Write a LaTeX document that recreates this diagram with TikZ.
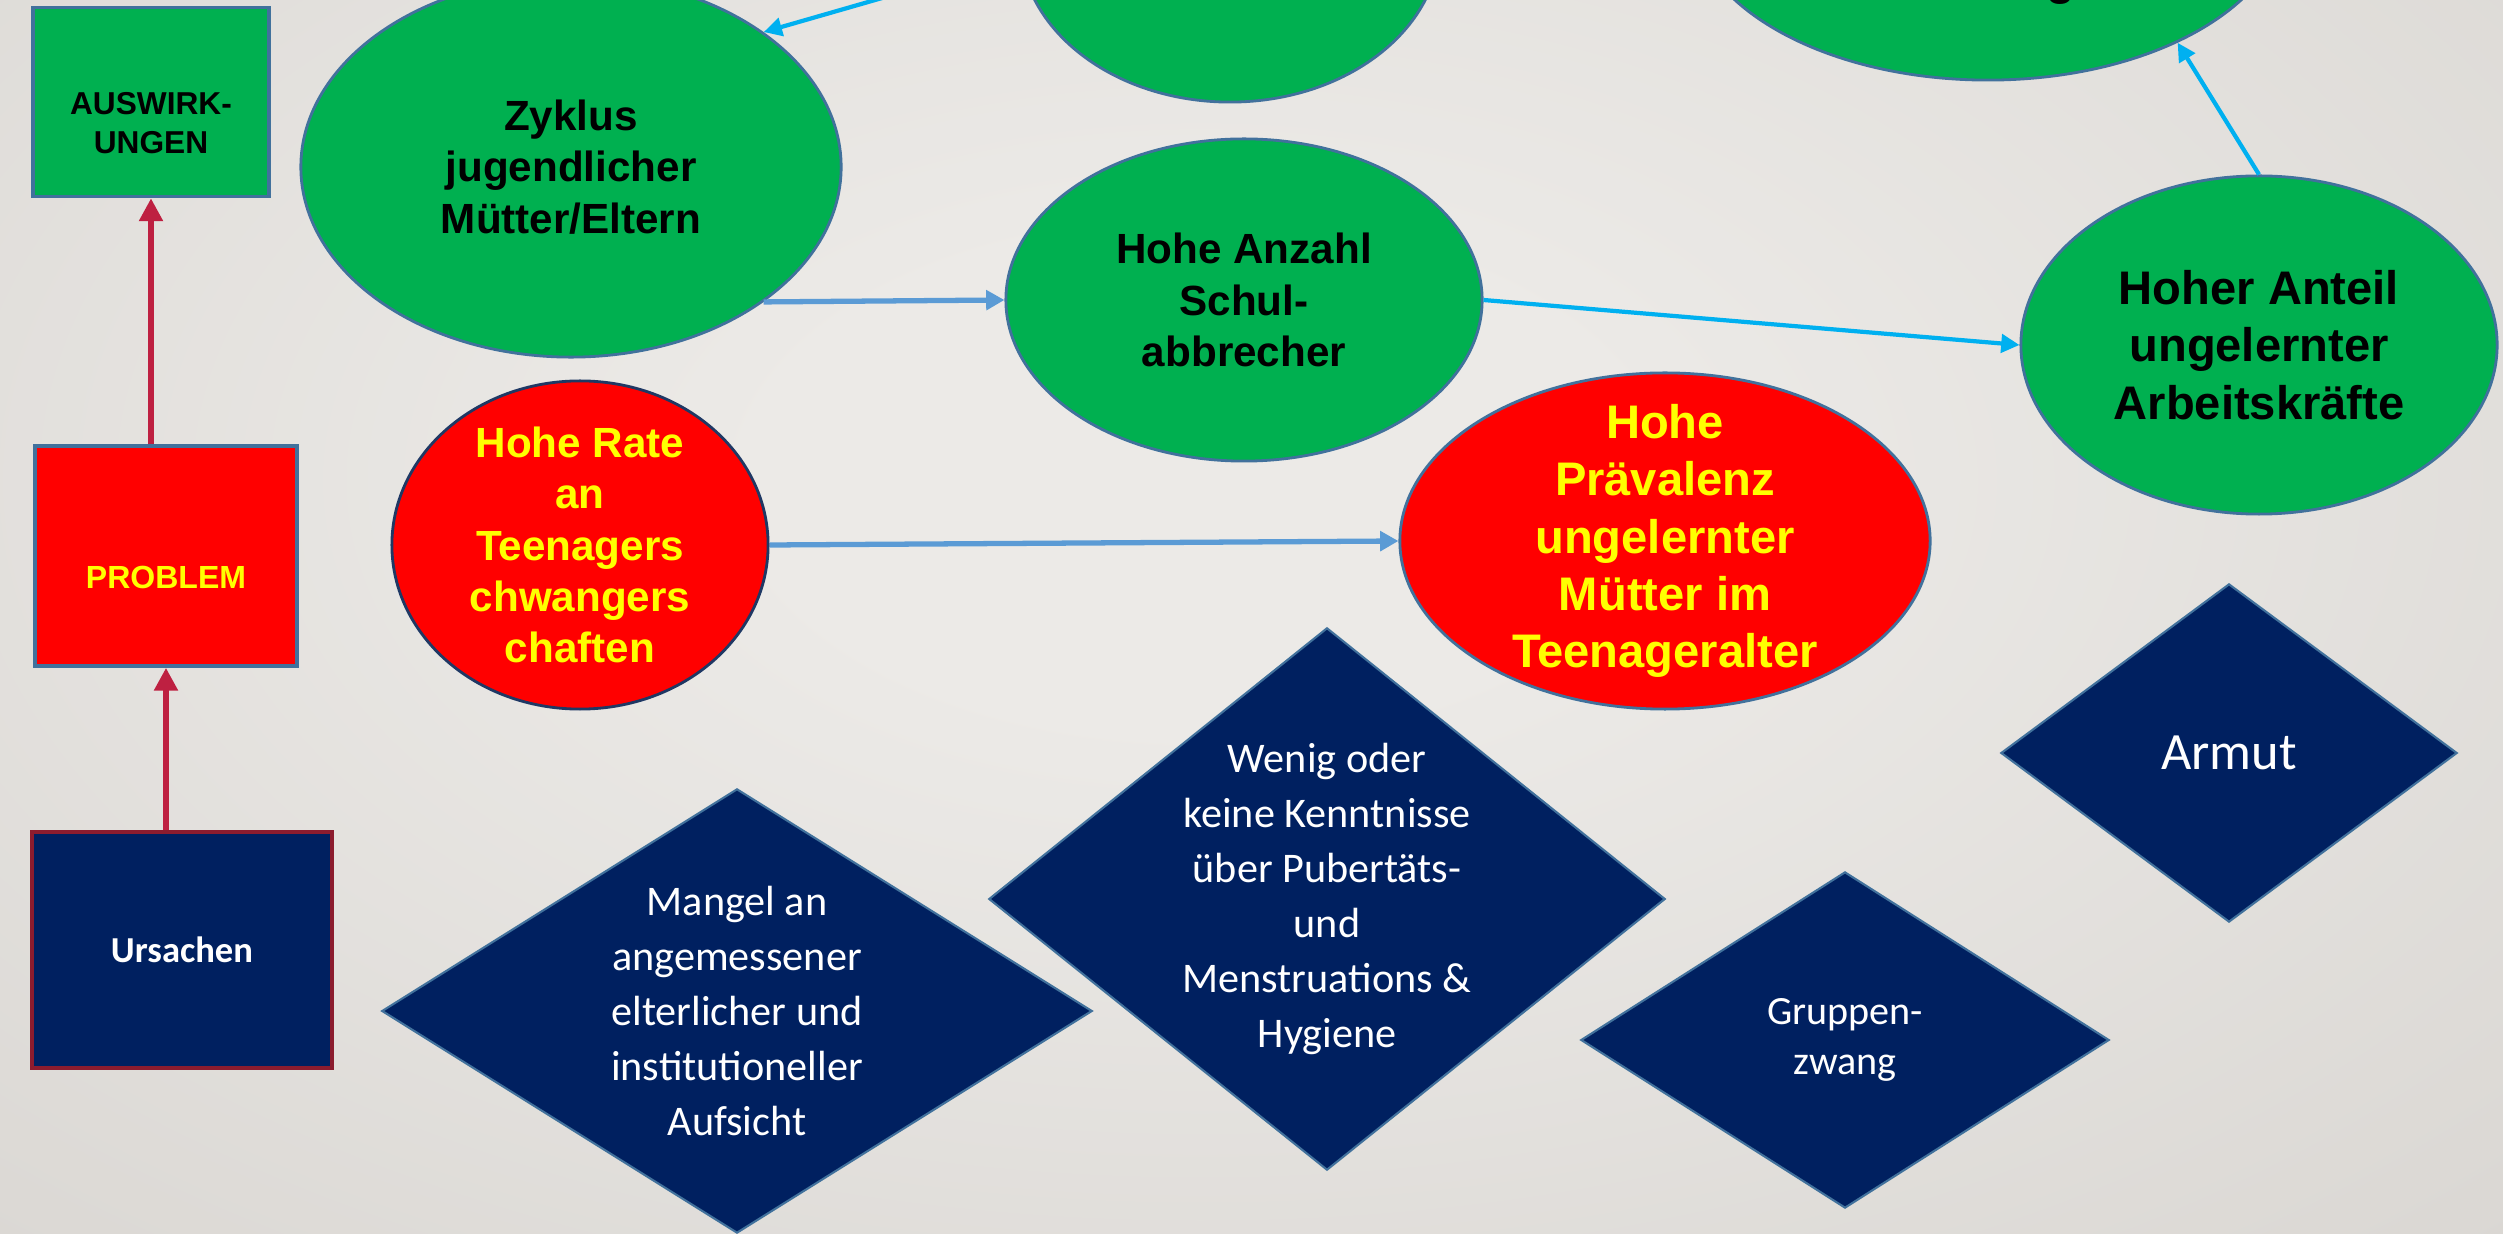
\documentclass[tikz,border=0pt]{standalone}
\usepackage{fontspec}
\setmainfont{Liberation Sans}
\newfontfamily\calib{Carlito}
\usetikzlibrary{shapes.geometric,arrows.meta}
\definecolor{grn}{HTML}{00B050}
\definecolor{rd}{HTML}{FF0000}
\definecolor{yel}{HTML}{FFFF00}
\definecolor{navy}{HTML}{002060}
\definecolor{bord}{HTML}{41719C}
\definecolor{navyb}{HTML}{1F3864}
\definecolor{crim}{HTML}{BE2041}
\definecolor{crimb}{HTML}{8C1C2E}
\definecolor{sky}{HTML}{00B0F0}
\definecolor{steel}{HTML}{5B9BD5}
\definecolor{bglight}{HTML}{ECEAE7}
\definecolor{bgmid}{HTML}{DAD7D3}
\definecolor{bgdark}{HTML}{C8C4BF}
\pgfdeclareradialshading{bgshade}{\pgfpoint{0bp}{0bp}}{color(0bp)=(bglight); color(8bp)=(bglight); color(35bp)=(bgmid); color(50bp)=(bgdark); color(75bp)=(bgdark)}
\tikzset{
  gell/.style={ellipse, fill=grn, draw=bord, line width=0.8pt, inner sep=-0.5cm, align=center, text=black,
    font=\bfseries\fontsize{12}{14.6}\selectfont},
  gbig/.style={font=\bfseries\fontsize{13.4}{16.3}\selectfont},
  rell/.style={ellipse, fill=rd, draw=bord, line width=0.8pt, inner sep=-0.5cm, align=center, text=yel,
    font=\bfseries\fontsize{12}{14.6}\selectfont},
  dia/.style={diamond, fill=navy, draw=bord, line width=0.6pt, inner sep=-3pt, align=center, text=white,
    font=\calib\fontsize{12}{15.6}\selectfont},
  sidebox/.style={rectangle, line width=1pt, inner sep=0pt, align=center},
  crimarr/.style={draw=crim, line width=1.6pt, -{Triangle[length=6.5pt,width=6.5pt]}},
  skyarr/.style={draw=sky, line width=1.2pt, -{Triangle[length=5.2pt,width=5.2pt]}},
  steelarr/.style={draw=steel, line width=1.5pt, -{Triangle[length=5.2pt,width=5.5pt]}}
}
\begin{document}
\begin{tikzpicture}[x=0.01cm,y=-0.01cm]
\useasboundingbox (0,0) rectangle (2503,1234);
\clip (0,0) rectangle (2503,1234);
\shade[shading=bgshade] (-150,-280) rectangle (2550,1240);

% left column boxes
\node[sidebox, fill=grn, draw=bord, minimum width=2.36cm, minimum height=1.89cm,
  text height=29.1pt, text depth=0pt, font=\bfseries\fontsize{9}{11.1}\selectfont] (aus) at (151,102) {AUSWIRK-\\UNGEN};
\node[sidebox, fill=rd, draw=bord, text=yel, minimum width=2.62cm, minimum height=2.2cm,
  text height=18.5pt, text depth=0pt, font=\bfseries\fontsize{9.1}{11}\selectfont] (prob) at (166,556) {PROBLEM};
\node[sidebox, fill=navy, draw=crimb, text=white, line width=1.1pt, minimum width=3.0cm, minimum height=2.35cm,
  font=\calib\bfseries\fontsize{10.4}{12}\selectfont] (urs) at (182,950) {Ursachen};

\draw[crimarr] (aus.south |- prob.north) -- (aus.south);
\draw[crimarr] (prob.south |- urs.north) -- (prob.south);

% green ellipses
\node[gell, minimum width=4.2cm, minimum height=3.24cm] (mid) at (1230,-60) {};
\node[gell, minimum width=5.96cm, minimum height=3.4cm] (tr) at (1988,-90) {};
\node[anchor=base, font=\bfseries\fontsize{13.4}{16.3}\selectfont] (trg) at (2061,-5) {g};
\node[gell, minimum width=5.4cm, minimum height=3.8cm] (zyk) at (571,167) {Zyklus\\jugendlicher\\Mütter/Eltern};
\node[gell, minimum width=4.76cm, minimum height=3.22cm] (hza) at (1244,300) {Hohe Anzahl\\Schul-\\abbrecher};
\node[gell, gbig, minimum width=4.76cm, minimum height=3.38cm] (hoa) at (2259,345) {Hoher Anteil\\ungelernter\\Arbeitskräfte};

% red ellipses
\node[rell, draw=navyb, minimum width=3.76cm, minimum height=3.28cm] (r1) at (580,545) {Hohe Rate\\an\\Teenagers\\chwangers\\chaften};
\node[rell, gbig, minimum width=5.3cm, minimum height=3.36cm] (r2) at (1665,541) {Hohe\\Prävalenz\\ungelernter\\Mütter im\\Teenageralter};

% diamonds
\node[dia, aspect=1.6, minimum width=7.1cm, minimum height=4.44cm] (mangel) at (737,1011) {Mangel an\\angemessener\\elterlicher und\\institutioneller\\Aufsicht};
\node[dia, aspect=1.25, minimum width=6.76cm, minimum height=5.42cm] (wenig) at (1327,899) {Wenig oder\\keine Kenntnisse\\über Pubertäts-\\und\\Menstruations \&\\Hygiene};
\node[dia, aspect=1.57, minimum width=5.28cm, minimum height=3.36cm, font=\calib\fontsize{11.4}{14.2}\selectfont] (grup) at (1845,1040) {Gruppen-\\zwang};
\node[dia, aspect=1.35, minimum width=4.56cm, minimum height=3.38cm, font=\calib\fontsize{14.9}{18}\selectfont] (armut) at (2229,753) {Armut};

% connectors
\draw[skyarr] (mid.185) -- (zyk.35);
\draw[steelarr] (zyk.-35) -- (hza.west);
\draw[skyarr] (hza.east) -- (hoa.west);
\draw[skyarr] (hoa.north) -- (tr.325);
\draw[steelarr] (r1.east) -- (r2.west);
\end{tikzpicture}
\end{document}
